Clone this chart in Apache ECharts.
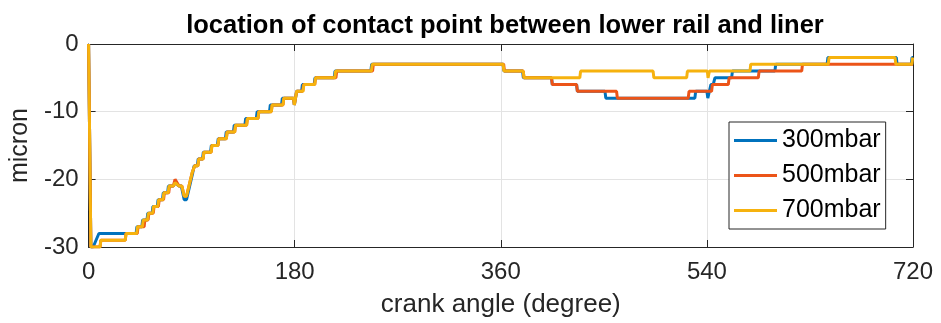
<!DOCTYPE html>
<html>
<head>
<meta charset="utf-8">
<script src="https://cdn.jsdelivr.net/npm/echarts@6/dist/echarts.min.js"></script>
<style>
html,body{margin:0;padding:0;background:#fff;}
#c{width:941px;height:323px;}
</style>
</head>
<body>
<div id="c"></div>
<script>
// ---- data (crank angle in degrees, contact location in micron) ----
// each entry: [angle where the value changes, new value, optional transition width]
const xTicks = [0, 180, 360, 540, 720];
const yTicks = [-30, -20, -10, 0];
const seriesNames = ['300mbar', '500mbar', '700mbar'];
const titleText = 'location of contact point between lower rail and liner';
const xName = 'crank angle (degree)';
const yName = 'micron';

const p300 = [[0,0],[0,-30,2],[4,-28,5],[41.5,-27],[46.5,-26],[51,-25],[55.5,-24],[60,-23],[64.5,-22],[69,-21],
  [74,-20.5,1.5],[77,-21,2],[81,-23,2.5],[85.5,-19,5.5],[91.5,-18],[95,-17],[99.5,-16],[106.5,-15],[112.5,-14],
  [119.5,-13],[126.5,-12],[136.5,-11],[146.5,-10],[158,-9],[168.5,-8],[179,-9,0.7],[180.2,-7,1.5],[186,-6],[197,-5],
  [214.5,-4],[246.5,-3],[362,-4],[379,-5],[404.3,-6],[426.2,-7],[451,-8],[529.5,-7],[540,-8,0.8],[541.5,-6,2],
  [545.5,-5,1.5],[561.6,-4],[599.4,-3],[645,-2],[705.4,-3],[718.5,-2]];

const p500 = [[0,0],[0,-30,2],[10,-29],[32,-28],[42.5,-27],[48.5,-26],[52,-25],[56.5,-24],[61,-23],[65.5,-22],[70,-21],
  [74,-20,1.5],[77,-21,2],[81.5,-22.5,2],[85.5,-19,5],[92,-18],[95.5,-17],[100,-16],[107,-15],[113,-14],[120.3,-13],
  [127.6,-12],[138,-11],[148,-10],[159.6,-9],[169.8,-8],[179,-9,0.7],[180.2,-7,1.5],[187,-6],[197.5,-5],[216,-4],
  [248,-3],[362.5,-4],[379.6,-5],[404.3,-6],[426.2,-7],[461.1,-8],[523.7,-7],[544.1,-6],[558.7,-5],[584.9,-4],[622.8,-3]];

const p700 = [[0,0],[0,-30,2],[10,-29],[32,-28],[42,-27],[47,-26],[51.5,-25],[56,-24],[60.5,-23],[65,-22],[69.5,-21],
  [74,-20.5,1.5],[77,-21,2],[81.5,-22.5,2],[85.5,-19,5],[92,-18],[95.5,-17],[100,-16],[107,-15],[113,-14],[120.3,-13],
  [127.6,-12],[138,-11],[148,-10],[159.6,-9],[169.8,-8],[179,-9,0.7],[180.2,-7,1.5],[187.3,-6],[197.5,-5],[215,-4],
  [247,-3],[362,-4],[379.6,-5],[429,-4],[493,-5],[522.3,-4],[540.4,-5,0.6],[541.4,-4,0.8],[577.6,-3],[646,-2],
  [704.3,-3],[719,-2]];

const seriesData = [p300, p500, p700];
const colors = ['#0072BD', '#EC5418', '#F6B20E'];

// build staircase polyline vertices from change points
const RAMP = 0.7;
const xMin = xTicks[0], xMax = xTicks[xTicks.length - 1];
function stairs(pts) {
  const out = [[pts[0][0], pts[0][1]]];
  let prev = pts[0][1];
  for (let i = 1; i < pts.length; i++) {
    const x = pts[i][0], y = pts[i][1];
    const w = pts[i].length > 2 ? pts[i][2] : RAMP;
    out.push([x, prev]);
    out.push([x + w, y]);
    prev = y;
  }
  const last = out[out.length - 1][0];
  if (last < xMax) out.push([xMax, prev]);
  return out;
}

const axisColor = '#262626';
const fontFamily = '"Liberation Sans", Arial, Helvetica, sans-serif';
const xInterval = xTicks[1] - xTicks[0];
const yInterval = yTicks[1] - yTicks[0];

const chart = echarts.init(document.getElementById('c'), null, {renderer: 'canvas'});
const baseX = {
  type: 'value', min: xMin, max: xMax, interval: xInterval,
  axisLine: {show: true, onZero: false, lineStyle: {color: axisColor, width: 1}},
  axisTick: {show: true, inside: true, length: 7, lineStyle: {color: axisColor, width: 1}}
};
const baseY = {
  type: 'value', min: yTicks[0], max: yTicks[yTicks.length - 1], interval: yInterval,
  axisLine: {show: true, onZero: false, lineStyle: {color: axisColor, width: 1}},
  axisTick: {show: true, inside: true, length: 7, lineStyle: {color: axisColor, width: 1}}
};

chart.setOption({
  animation: false,
  backgroundColor: '#fff',
  title: {
    text: titleText, left: 500, top: 8, textAlign: 'center',
    textStyle: {fontFamily, fontSize: 25.5, fontWeight: 'bold', color: '#000'}
  },
  grid: {left: 88, right: 28, top: 44, bottom: 73, containLabel: false},
  legend: {
    orient: 'vertical', left: 729, top: 122,
    padding: [6, 5, 6, 5], itemGap: 10,
    itemWidth: 43, itemHeight: 3, icon: 'rect',
    borderColor: axisColor, borderWidth: 1, backgroundColor: '#fff',
    textStyle: {fontFamily, fontSize: 25, color: '#000'},
    data: seriesNames
  },
  xAxis: [
    Object.assign({}, baseX, {
      position: 'bottom',
      name: xName, nameLocation: 'middle', nameGap: 45,
      nameTextStyle: {fontFamily, fontSize: 26, color: axisColor},
      axisLabel: {show: true, margin: 13, fontFamily, fontSize: 24, color: axisColor},
      splitLine: {show: true, lineStyle: {color: '#e3e3e3', width: 1}}
    }),
    Object.assign({}, baseX, {
      position: 'top',
      axisLabel: {show: false}, splitLine: {show: false}
    })
  ],
  yAxis: [
    Object.assign({}, baseY, {
      position: 'left',
      name: yName, nameLocation: 'middle', nameGap: 40, nameRotate: 90,
      nameTextStyle: {fontFamily, fontSize: 25, color: axisColor},
      axisLabel: {show: true, margin: 10, fontFamily, fontSize: 24, color: axisColor},
      splitLine: {show: true, lineStyle: {color: '#e3e3e3', width: 1}}
    }),
    Object.assign({}, baseY, {
      position: 'right',
      axisLabel: {show: false}, splitLine: {show: false}
    })
  ],
  series: seriesData.map((d, i) => ({
    name: seriesNames[i], type: 'line', xAxisIndex: 0, yAxisIndex: 0,
    data: stairs(d), showSymbol: false, symbol: 'none',
    lineStyle: {color: colors[i], width: 3},
    itemStyle: {color: colors[i]},
    emphasis: {disabled: true}
  }))
});
</script>
</body>
</html>
